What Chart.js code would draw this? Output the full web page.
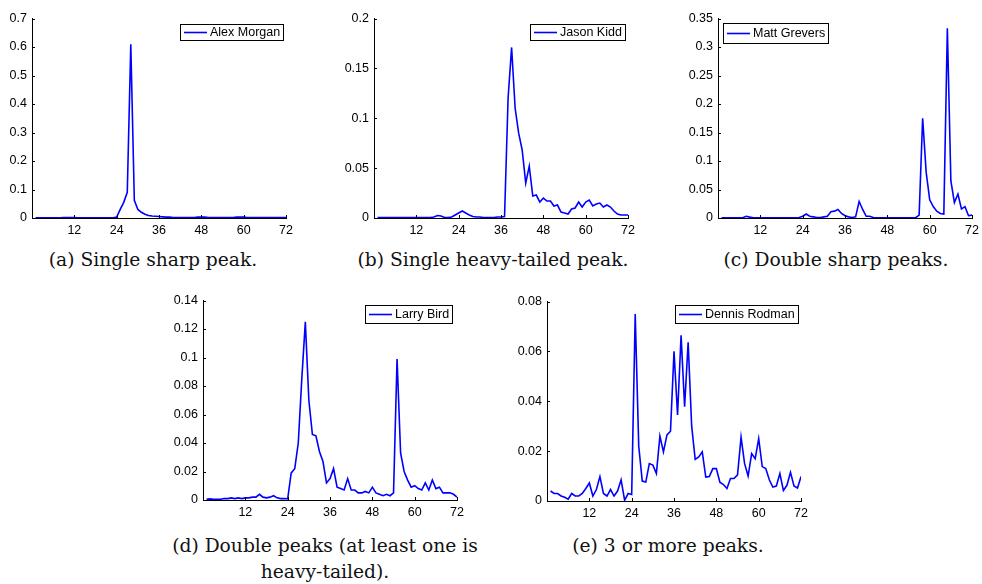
<!DOCTYPE html>
<html>
<head>
<meta charset="utf-8">
<script src="https://cdn.jsdelivr.net/npm/chart.js@4.4.0/dist/chart.umd.min.js"></script>
<style>
  html, body { margin: 0; padding: 0; background: #fff; }
  body { width: 982px; height: 584px; position: relative; overflow: hidden; }
  canvas.panel { position: absolute; }
  .caption {
    position: absolute; width: 400px; text-align: center; white-space: nowrap;
    font-family: "DejaVu Serif", serif; font-size: 18.7px; line-height: 26px; color: #111;
  }
</style>
</head>
<body>
<canvas class="panel" id="chartA"></canvas>
<canvas class="panel" id="chartB"></canvas>
<canvas class="panel" id="chartC"></canvas>
<canvas class="panel" id="chartD"></canvas>
<canvas class="panel" id="chartE"></canvas>

<div class="caption" style="left:-47px; top:247px;">(a) Single sharp peak.</div>
<div class="caption" style="left:293px; top:247px;">(b) Single heavy-tailed peak.</div>
<div class="caption" style="left:636px; top:247px;">(c) Double sharp peaks.</div>
<div class="caption" style="left:125px; top:533px;">(d) Double peaks (at least one is<br>heavy-tailed).</div>
<div class="caption" style="left:468px; top:533px;">(e) 3 or more peaks.</div>

<script>
// hour of week bins
const hours = [1, 2, 3, 4, 5, 6, 7, 8, 9, 10, 11, 12, 13, 14, 15, 16, 17, 18, 19, 20, 21, 22, 23, 24,
  25, 26, 27, 28, 29, 30, 31, 32, 33, 34, 35, 36, 37, 38, 39, 40, 41, 42, 43, 44, 45, 46, 47, 48,
  49, 50, 51, 52, 53, 54, 55, 56, 57, 58, 59, 60, 61, 62, 63, 64, 65, 66, 67, 68, 69, 70, 71, 72];
const xTicks = [12, 24, 36, 48, 60, 72];

const alexMorgan = [0.001, 0.001, 0.001, 0.001, 0.001, 0.001, 0.001, 0.001, 0.002, 0.002, 0.002, 0.002,
  0.001, 0.001, 0.001, 0.001, 0.001, 0.001, 0.001, 0.001, 0.001, 0.001, 0.001, 0.003,
  0.03, 0.055, 0.09, 0.61, 0.062, 0.03, 0.02, 0.013, 0.009, 0.007, 0.006, 0.005,
  0.004, 0.003, 0.003, 0.002, 0.002, 0.002, 0.002, 0.002, 0.002, 0.002, 0.003, 0.003,
  0.003, 0.002, 0.002, 0.002, 0.002, 0.002, 0.002, 0.002, 0.002, 0.003, 0.003, 0.003,
  0.002, 0.002, 0.002, 0.002, 0.002, 0.002, 0.002, 0.002, 0.002, 0.002, 0.002, 0.002];

const jasonKidd = [0.0005, 0.0005, 0.0005, 0.0005, 0.0005, 0.0005, 0.0005, 0.0005, 0.0005, 0.0005, 0.0005, 0.0005,
  0.0005, 0.0005, 0.0005, 0.0005, 0.001, 0.0025, 0.002, 0.0005, 0.0005, 0.001, 0.003, 0.005,
  0.007, 0.005, 0.003, 0.0015, 0.001, 0.001, 0.0005, 0.0005, 0.0005, 0.0005, 0.001, 0.001,
  0.0015, 0.12, 0.171, 0.11, 0.085, 0.068, 0.035, 0.052, 0.022, 0.023, 0.016, 0.02,
  0.017, 0.017, 0.012, 0.013, 0.006, 0.005, 0.004, 0.009, 0.01, 0.016, 0.011, 0.016,
  0.018, 0.012, 0.014, 0.015, 0.011, 0.013, 0.011, 0.007, 0.004, 0.003, 0.003, 0.003];

const mattGrevers = [0.0005, 0.0005, 0.0005, 0.0005, 0.0005, 0.0005, 0.0005, 0.003, 0.0015, 0.0005, 0.0005, 0.0005,
  0.0005, 0.0005, 0.0005, 0.0005, 0.0005, 0.0005, 0.0005, 0.0005, 0.0005, 0.0005, 0.001, 0.003,
  0.007, 0.003, 0.002, 0.001, 0.001, 0.002, 0.003, 0.011, 0.012, 0.015, 0.008, 0.004,
  0.002, 0.001, 0.002, 0.029, 0.015, 0.003, 0.003, 0.001, 0.0005, 0.0005, 0.0005, 0.0005,
  0.0005, 0.0005, 0.0005, 0.0005, 0.0005, 0.0005, 0.0005, 0.0005, 0.005, 0.175, 0.08, 0.032,
  0.02, 0.012, 0.008, 0.007, 0.333, 0.065, 0.027, 0.042, 0.016, 0.02, 0.004, 0.005];

const larryBird = [0.0005, 0.0008, 0.0005, 0.0005, 0.0005, 0.001, 0.001, 0.0015, 0.001, 0.0015, 0.001, 0.0015,
  0.0015, 0.002, 0.002, 0.004, 0.002, 0.0015, 0.002, 0.003, 0.0015, 0.001, 0.001, 0.0008,
  0.019, 0.022, 0.04, 0.085, 0.125, 0.07, 0.046, 0.045, 0.034, 0.027, 0.012, 0.015,
  0.022, 0.009, 0.008, 0.007, 0.015, 0.007, 0.007, 0.005, 0.005, 0.006, 0.005, 0.009,
  0.005, 0.004, 0.003, 0.004, 0.003, 0.005, 0.099, 0.033, 0.02, 0.014, 0.009, 0.01,
  0.008, 0.007, 0.012, 0.007, 0.014, 0.008, 0.009, 0.005, 0.005, 0.005, 0.004, 0.002];

const dennisRodman = [0.004, 0.003, 0.003, 0.002, 0.0015, 0.0007, 0.003, 0.002, 0.002, 0.003, 0.005, 0.0072,
  0.002, 0.0046, 0.0098, 0.003, 0.002, 0.0046, 0.002, 0.004, 0.0085, 0.0003, 0.003, 0.0026,
  0.075, 0.022, 0.008, 0.0076, 0.015, 0.0144, 0.011, 0.026, 0.0197, 0.0265, 0.028, 0.06,
  0.0345, 0.0665, 0.0378, 0.0636, 0.03, 0.0167, 0.0177, 0.0197, 0.0096, 0.0098, 0.013, 0.013,
  0.0075, 0.0066, 0.005, 0.009, 0.009, 0.0105, 0.0256, 0.015, 0.01, 0.019, 0.017, 0.025,
  0.0138, 0.013, 0.0085, 0.0056, 0.006, 0.011, 0.0042, 0.0063, 0.0115, 0.006, 0.0052, 0.0098];

const yTicksA = [0, 0.1, 0.2, 0.3, 0.4, 0.5, 0.6, 0.7];
const yTicksB = [0, 0.05, 0.1, 0.15, 0.2];
const yTicksC = [0, 0.05, 0.1, 0.15, 0.2, 0.25, 0.3, 0.35];
const yTicksD = [0, 0.02, 0.04, 0.06, 0.08, 0.1, 0.12, 0.14];
const yTicksE = [0, 0.02, 0.04, 0.06, 0.08];

const TICK_FONT = { family: '"Liberation Sans", Arial, sans-serif', size: 12.5 };
const Y_AXIS_W = 36, X_AXIS_H = 20, PAD_TOP = 8, PAD_RIGHT = 8;

// matlab style ticks pointing into the plot
const inwardTicks = {
  id: 'inwardTicks',
  afterDatasetsDraw(chart) {
    const { ctx, chartArea: area, scales: { x, y } } = chart;
    ctx.save();
    ctx.strokeStyle = '#000';
    ctx.lineWidth = 1;
    ctx.beginPath();
    x.ticks.forEach(t => {
      const px = Math.round(x.getPixelForValue(t.value)) + 0.5;
      ctx.moveTo(px, area.bottom);
      ctx.lineTo(px, area.bottom - 3);
    });
    y.ticks.forEach(t => {
      const py = Math.round(y.getPixelForValue(t.value)) + 0.5;
      ctx.moveTo(area.left, py);
      ctx.lineTo(area.left + 3, py);
    });
    ctx.stroke();
    ctx.restore();
  }
};

// legend inside a framed white box
const boxedLegend = {
  id: 'boxedLegend',
  afterDraw(chart, args, opts) {
    const { ctx, chartArea: area } = chart;
    const ds = chart.data.datasets[0];
    ctx.save();
    ctx.font = '12.5px "Liberation Sans", Arial, sans-serif';
    const tw = ctx.measureText(ds.label).width;
    const w = Math.round(4 + 23 + 3 + tw + 3);
    const h = opts.h;
    const bx = opts.side === 'left' ? Math.round(area.left + opts.dx) : Math.round(area.right - opts.dx - w);
    const by = Math.round(area.top + opts.dy);
    ctx.fillStyle = '#fff';
    ctx.fillRect(bx, by, w, h);
    ctx.strokeStyle = '#000';
    ctx.lineWidth = 1;
    ctx.strokeRect(bx + 0.5, by + 0.5, w, h);
    const cy = by + h / 2 + 0.5;
    ctx.strokeStyle = ds.borderColor;
    ctx.lineWidth = ds.borderWidth;
    ctx.beginPath();
    ctx.moveTo(bx + 4, cy);
    ctx.lineTo(bx + 27, cy);
    ctx.stroke();
    ctx.fillStyle = '#000';
    ctx.textBaseline = 'middle';
    ctx.fillText(ds.label, bx + 30, cy + 0.5);
    ctx.restore();
  }
};

function makePanel(id, label, values, yTicks, left, top, legend) {
  const canvas = document.getElementById(id);
  const plotW = 258, plotH = 204;
  canvas.width = Y_AXIS_W + plotW + PAD_RIGHT;
  canvas.height = PAD_TOP + plotH + X_AXIS_H;
  canvas.style.left = (left - Y_AXIS_W) + 'px';
  canvas.style.top = (top - PAD_TOP) + 'px';

  new Chart(canvas.getContext('2d'), {
    type: 'line',
    data: {
      datasets: [{
        label: label,
        data: values.map((v, i) => ({ x: hours[i], y: v })),
        borderColor: '#0000ff',
        borderWidth: 1.6,
        pointRadius: 0,
        tension: 0,
        fill: false
      }]
    },
    options: {
      responsive: false,
      animation: false,
      devicePixelRatio: 1,
      layout: { padding: { top: PAD_TOP, right: PAD_RIGHT, left: 0, bottom: 0 } },
      plugins: {
        legend: { display: false },
        tooltip: { enabled: false },
        boxedLegend: legend
      },
      scales: {
        x: {
          type: 'linear',
          min: 0,
          max: 72,
          afterBuildTicks: s => { s.ticks = xTicks.map(v => ({ value: v })); },
          afterFit: s => { s.height = X_AXIS_H; },
          grid: { display: true, drawOnChartArea: false, drawTicks: false },
          border: { display: true, color: '#000', width: 1 },
          ticks: { color: '#000', font: TICK_FONT, padding: 5, maxRotation: 0, autoSkip: false }
        },
        y: {
          min: yTicks[0],
          max: yTicks[yTicks.length - 1],
          afterBuildTicks: s => { s.ticks = yTicks.map(v => ({ value: v })); },
          afterFit: s => { s.width = Y_AXIS_W; },
          grid: { display: true, drawOnChartArea: false, drawTicks: false },
          border: { display: true, color: '#000', width: 1 },
          ticks: {
            color: '#000', font: TICK_FONT, padding: 5, autoSkip: false,
            callback: v => String(+Number(v).toFixed(4))
          }
        }
      }
    },
    plugins: [inwardTicks, boxedLegend]
  });
}

makePanel('chartA', 'Alex Morgan', alexMorgan, yTicksA, 32, 14, { side: 'right', dx: 3, dy: 5, h: 16 });
makePanel('chartB', 'Jason Kidd', jasonKidd, yTicksB, 374, 14, { side: 'right', dx: 3, dy: 5, h: 16 });
makePanel('chartC', 'Matt Grevers', mattGrevers, yTicksC, 718, 14, { side: 'left', dx: 5, dy: 4, h: 20 });
makePanel('chartD', 'Larry Bird', larryBird, yTicksD, 203, 296, { side: 'right', dx: 5, dy: 4, h: 18 });
makePanel('chartE', 'Dennis Rodman', dennisRodman, yTicksE, 547, 297, { side: 'right', dx: 3, dy: 3, h: 18 });
</script>
</body>
</html>
